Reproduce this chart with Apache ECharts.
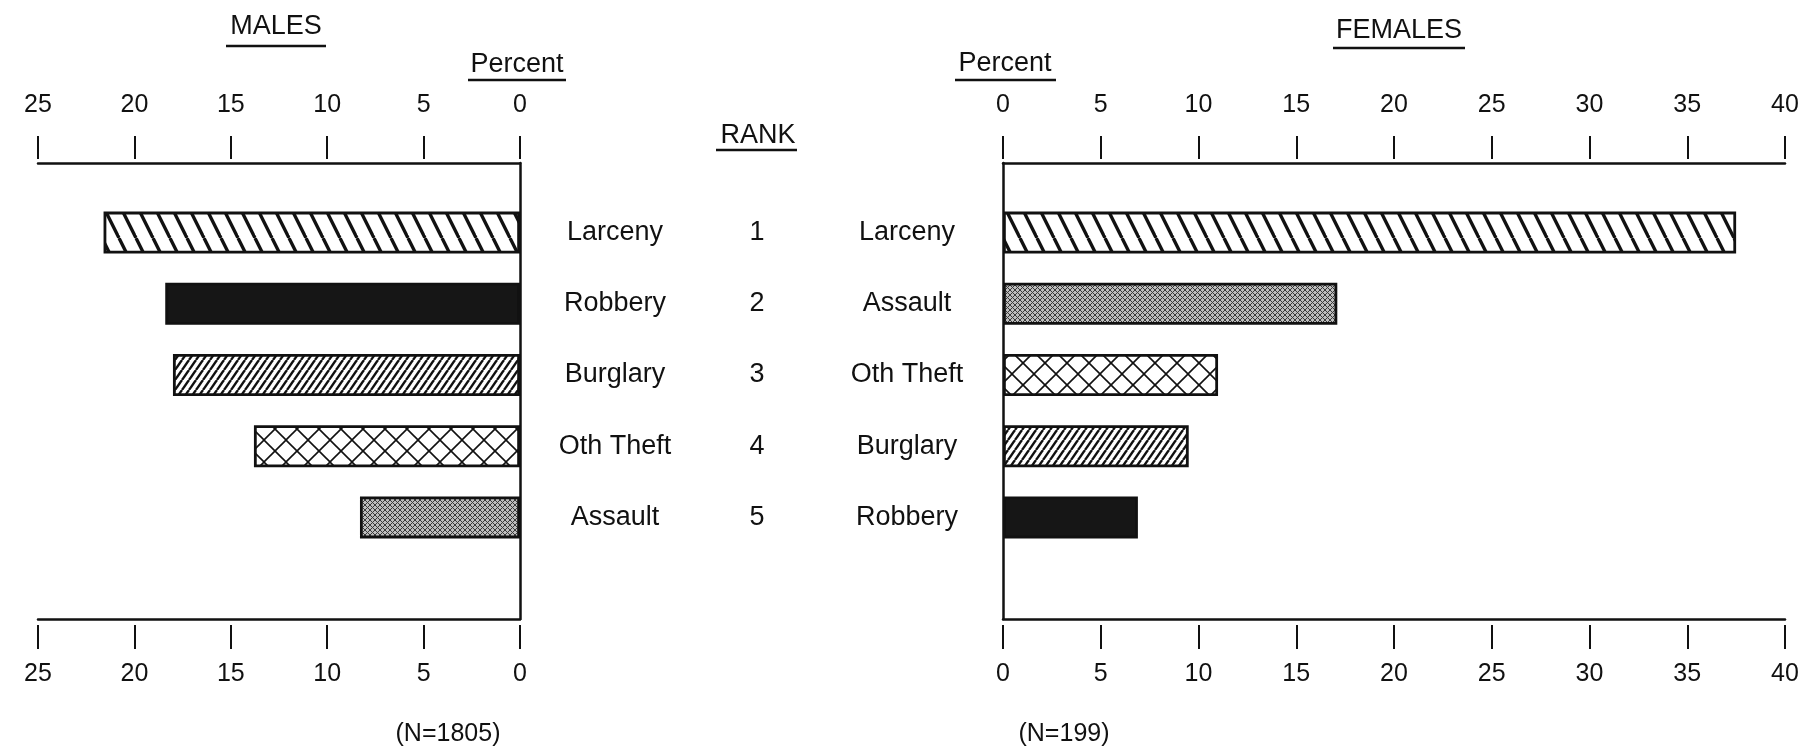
<!DOCTYPE html>
<html>
<head>
<meta charset="utf-8">
<script src="https://cdn.jsdelivr.net/npm/echarts@6/dist/echarts.min.js"></script>
<style>
    body { margin: 0; background: #fff; }
    #chart { width: 1803px; height: 751px; }
</style>
</head>
<body>
<div id="chart"></div>
<script>
    // values (percent of each group)
    var maleCrimes = ['Larceny', 'Robbery', 'Burglary', 'Oth Theft', 'Assault'];
    var maleValues = [21.6, 18.4, 18.0, 13.8, 8.3];
    var femaleCrimes = ['Larceny', 'Assault', 'Oth Theft', 'Burglary', 'Robbery'];
    var femaleValues = [37.5, 17.1, 11.0, 9.5, 6.9];
    var ranks = ['1', '2', '3', '4', '5'];
    var maleN = 1805;
    var femaleN = 199;

    var FONT = '"Liberation Sans", Arial, sans-serif';

    // hatch tiles for the bar fills
    function hatch(w, h, bg, fg, lw, dirs) {
        var c = document.createElement('canvas');
        c.width = w; c.height = h;
        var ctx = c.getContext('2d');
        ctx.fillStyle = bg;
        ctx.fillRect(0, 0, w, h);
        ctx.strokeStyle = fg;
        ctx.lineWidth = lw;
        dirs.forEach(function (d) {
            for (var k = -1; k <= 1; k++) {
                var x0 = k * w;
                ctx.beginPath();
                if (d === 'back') {
                    ctx.moveTo(x0, 0); ctx.lineTo(x0 + w, h);
                } else {
                    ctx.moveTo(x0 + w, 0); ctx.lineTo(x0, h);
                }
                ctx.stroke();
            }
        });
        return {image: c, repeat: 'repeat'};
    }

    var fills = {
        'Larceny': hatch(17, 34, '#fff', '#111', 3.4, ['back']),
        'Robbery': '#161616',
        'Burglary': hatch(7, 10, '#fff', '#111', 2.4, ['fwd']),
        'Oth Theft': hatch(22, 22, '#fff', '#111', 1.6, ['back', 'fwd']),
        'Assault': hatch(5, 5, '#bdbdbd', '#3a3a3a', 1, ['back', 'fwd'])
    };

    function barData(crimes, values) {
        return values.map(function (v, i) {
            return {value: v, itemStyle: {color: fills[crimes[i]]}};
        });
    }

    var lineStyle = {color: '#111', width: 2.5};
    var tickLabel = {color: '#111', fontSize: 25, fontFamily: FONT};

    // axis line only
    function frameLine(grid, pos, max, inverse) {
        return {
            type: 'value', gridIndex: grid, position: pos, min: 0, max: max, interval: 5, inverse: inverse,
            axisLine: {show: true, onZero: false, lineStyle: lineStyle},
            axisTick: {show: false}, axisLabel: {show: false}, splitLine: {show: false}
        };
    }
    // ticks + labels, set a little off the line
    function frameTicks(grid, pos, max, inverse) {
        var top = pos === 'top';
        return {
            type: 'value', gridIndex: grid, position: pos, offset: top ? 4 : 6,
            min: 0, max: max, interval: 5, inverse: inverse,
            axisLine: {show: false, onZero: false},
            axisTick: {show: true, length: top ? 23 : 24, lineStyle: {color: '#111', width: 2}},
            axisLabel: Object.assign({margin: top ? 41 : 37}, tickLabel),
            splitLine: {show: false}
        };
    }
    function hiddenX(grid, max, inverse) {
        return {
            type: 'value', gridIndex: grid, min: 0, max: max, inverse: inverse, show: false,
            axisLine: {onZero: false}, splitLine: {show: false}
        };
    }

    var labelFont = {color: '#111', fontSize: 27, fontFamily: FONT};

    function textEl(str, x, y, size) {
        return {
            type: 'text', x: x, y: y,
            style: {text: str, fill: '#111', font: size + 'px ' + FONT, align: 'center', verticalAlign: 'middle'}
        };
    }
    function underline(x1, x2, y) {
        return {type: 'line', shape: {x1: x1, y1: y, x2: x2, y2: y}, style: {stroke: '#111', lineWidth: 2.5}};
    }

    var myChart = echarts.init(document.getElementById('chart'));
    var option = {
        animation: false,
        backgroundColor: '#fff',
        grid: [
            {left: 38, top: 163, width: 482, height: 456},
            {left: 1003, top: 163, width: 782, height: 456},
            {left: 38, top: 197, width: 482, height: 356},
            {left: 1003, top: 197, width: 782, height: 356}
        ],
        xAxis: [
            frameLine(0, 'top', 25, true),
            frameTicks(0, 'top', 25, true),
            frameLine(0, 'bottom', 25, true),
            frameTicks(0, 'bottom', 25, true),
            frameLine(1, 'top', 40, false),
            frameTicks(1, 'top', 40, false),
            frameLine(1, 'bottom', 40, false),
            frameTicks(1, 'bottom', 40, false),
            hiddenX(2, 25, true),
            hiddenX(3, 40, false)
        ],
        yAxis: [
            {
                type: 'value', gridIndex: 0, position: 'right', min: 0, max: 1,
                axisLine: {show: true, onZero: false, lineStyle: lineStyle},
                axisTick: {show: false}, axisLabel: {show: false}, splitLine: {show: false}
            },
            {
                type: 'value', gridIndex: 1, position: 'left', min: 0, max: 1,
                axisLine: {show: true, onZero: false, lineStyle: lineStyle},
                axisTick: {show: false}, axisLabel: {show: false}, splitLine: {show: false}
            },
            {
                type: 'category', gridIndex: 2, position: 'right', inverse: true, data: maleCrimes,
                axisLine: {show: false, onZero: false}, axisTick: {show: false},
                axisLabel: Object.assign({margin: 95, align: 'center'}, labelFont)
            },
            {
                type: 'category', gridIndex: 2, position: 'right', offset: 237, inverse: true, data: ranks,
                axisLine: {show: false, onZero: false}, axisTick: {show: false},
                axisLabel: Object.assign({margin: 0, align: 'center'}, labelFont)
            },
            {
                type: 'category', gridIndex: 3, position: 'left', inverse: true, data: femaleCrimes,
                axisLine: {show: false, onZero: false}, axisTick: {show: false},
                axisLabel: Object.assign({margin: 96, align: 'center'}, labelFont)
            }
        ],
        series: [
            {
                name: 'Males', type: 'bar', xAxisIndex: 8, yAxisIndex: 2, barWidth: 42,
                itemStyle: {borderColor: '#111', borderWidth: 2.8},
                data: barData(maleCrimes, maleValues)
            },
            {
                name: 'Females', type: 'bar', xAxisIndex: 9, yAxisIndex: 4, barWidth: 42,
                itemStyle: {borderColor: '#111', borderWidth: 2.8},
                data: barData(femaleCrimes, femaleValues)
            }
        ],
        graphic: [
            textEl('MALES', 276, 27, 27), underline(226, 326, 46),
            textEl('Percent', 517, 65, 27), underline(468, 566, 80),
            textEl('RANK', 758, 136, 27), underline(716, 797, 150),
            textEl('FEMALES', 1399, 31, 27), underline(1333, 1465, 48),
            textEl('Percent', 1005, 64, 27), underline(955, 1056, 80),
            textEl('(N=' + maleN + ')', 448, 734, 25),
            textEl('(N=' + femaleN + ')', 1064, 734, 25)
        ]
    };
    myChart.setOption(option, true);
</script>
</body>
</html>
